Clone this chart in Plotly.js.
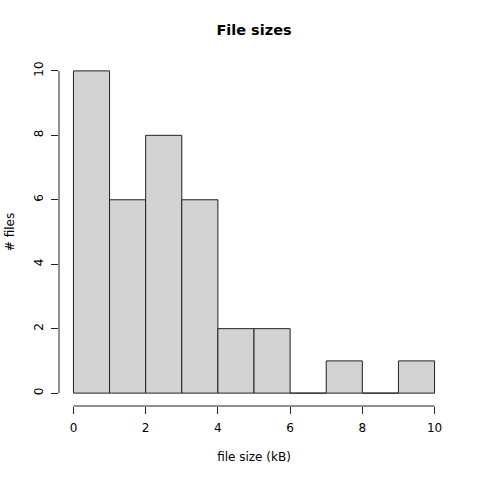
<!DOCTYPE html>
<html>
<head>
<meta charset="utf-8">
<script src="https://cdn.plot.ly/plotly-3.0.1.min.js"></script>
<style>html,body{margin:0;padding:0;background:#fff}#chart{width:480px;height:480px}</style>
</head>
<body>
<div id="chart"></div>
<script>
const binStarts = [0, 1, 2, 3, 4, 5, 6, 7, 8, 9];
const binWidth = 1;
const counts = [10, 6, 8, 6, 2, 2, 0, 1, 0, 1];
const xTicks = [0, 2, 4, 6, 8, 10];
const yTicks = [0, 2, 4, 6, 8, 10];

const font = "DejaVu Sans, Arial, sans-serif";
const centers = binStarts.map(s => s + binWidth / 2);

const bars = {
  type: 'bar',
  x: centers,
  y: counts,
  width: binStarts.map(() => binWidth),
  marker: {color: '#D3D3D3', line: {color: '#222222', width: 1}},
  hoverinfo: 'skip'
};

const xmin = xTicks[0], xmax = xTicks[xTicks.length - 1];
const ymin = yTicks[0], ymax = yTicks[yTicks.length - 1];
const xpad = (xmax - xmin) * 0.04, ypad = (ymax - ymin) * 0.04;

const layout = {
  width: 480, height: 480,
  margin: {l: 59, r: 31, t: 58, b: 74},
  paper_bgcolor: '#ffffff', plot_bgcolor: '#ffffff',
  showlegend: false,
  bargap: 0,
  font: {family: font, size: 12, color: '#000'},
  title: {text: '<b>File sizes</b>', font: {family: font, size: 14.5, color: '#000'}, x: 254/480, xanchor: 'center', y: 1 - 30/480, yanchor: 'middle'},
  xaxis: {
    range: [xmin - xpad, xmax + xpad], tickvals: xTicks, ticktext: xTicks.map(String),
    showgrid: false, zeroline: false, showline: false,
    ticks: 'outside', ticklen: 7, tickcolor: '#222', tickwidth: 1, ticklabelstandoff: 4,
    tickfont: {family: font, size: 12, color: '#000'},
    title: {text: 'file size (kB)', font: {family: font, size: 12, color: '#000'}, standoff: 18}
  },
  yaxis: {
    range: [ymin - ypad, ymax + ypad], tickvals: yTicks, ticktext: yTicks.map(String),
    showgrid: false, zeroline: false, showline: false,
    ticks: 'outside', ticklen: 7, tickcolor: '#222', tickwidth: 1, tickangle: -90, ticklabelstandoff: 3,
    tickfont: {family: font, size: 12, color: '#000'},
    title: {text: '# files', font: {family: font, size: 12, color: '#000'}, standoff: 15}
  },
  shapes: [
    {type: 'line', xref: 'x', yref: 'paper', x0: xmin, x1: xmax, y0: 0, y1: 0, line: {color: '#222', width: 1}},
    {type: 'line', xref: 'paper', yref: 'y', x0: 0, x1: 0, y0: ymin, y1: ymax, line: {color: '#222', width: 1}}
  ]
};

Plotly.newPlot('chart', [bars], layout, {displayModeBar: false, staticPlot: true});
</script>
</body>
</html>
